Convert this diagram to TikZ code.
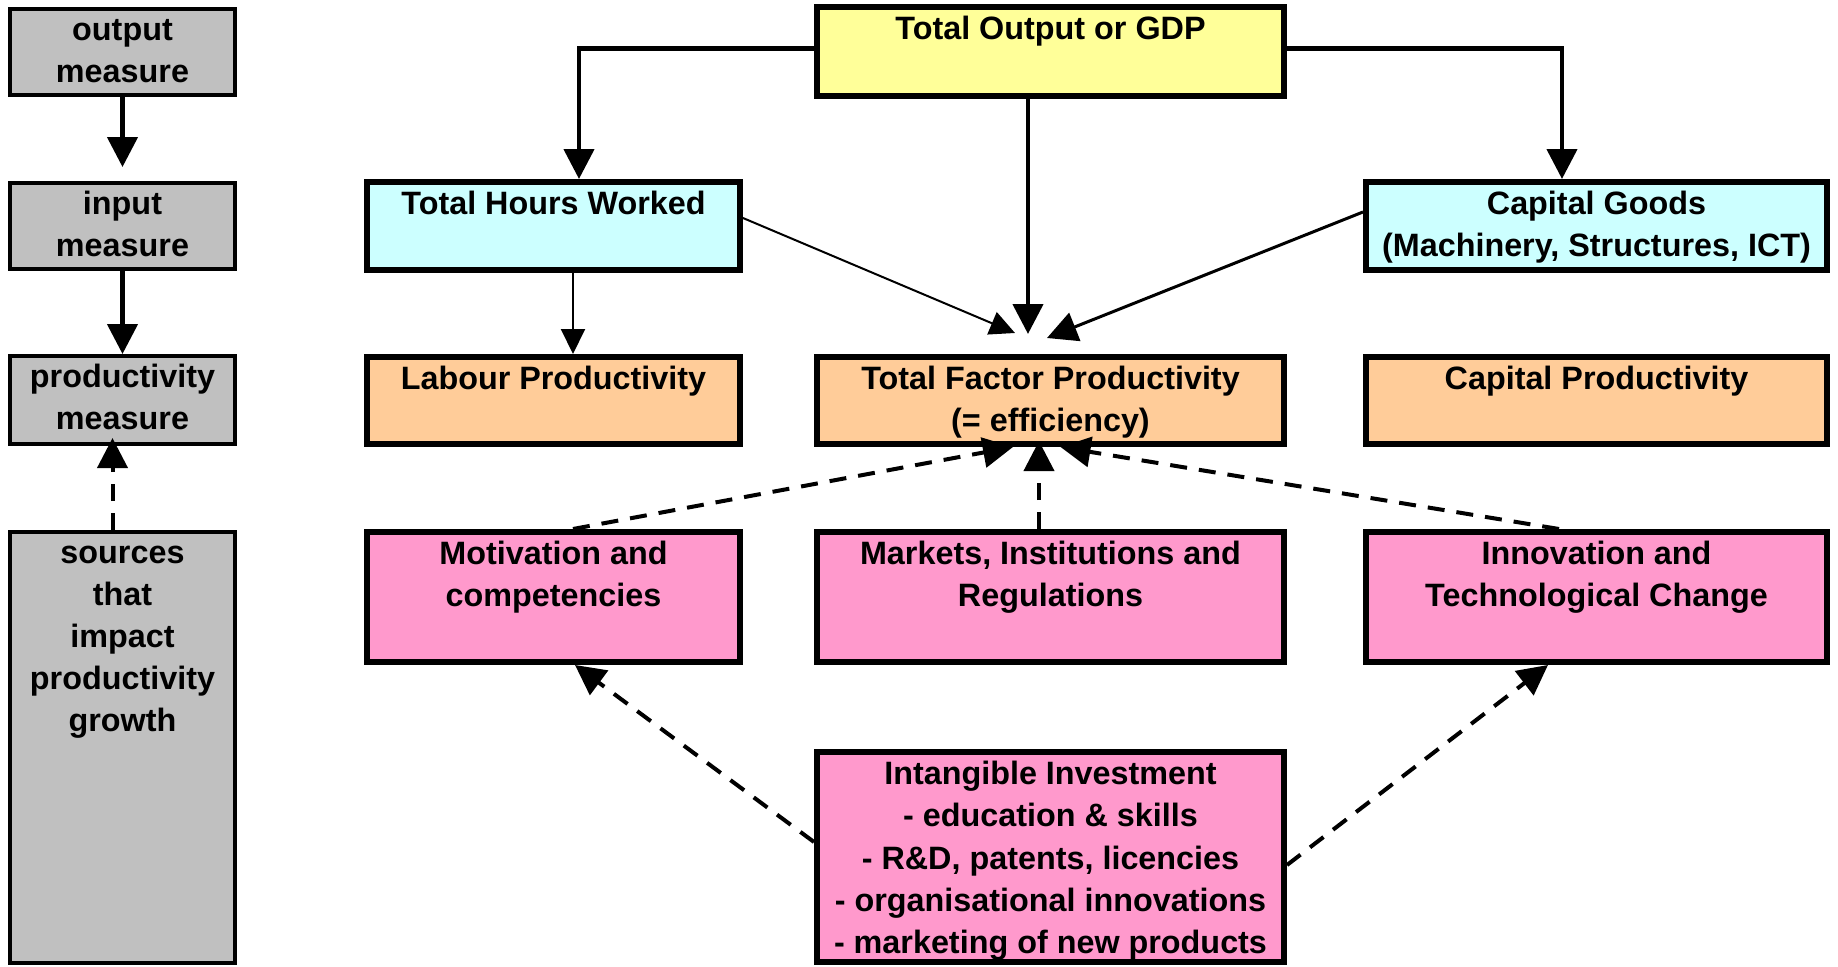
\documentclass[tikz,border=0pt]{standalone}
\usepackage{fontspec}
\setmainfont{Liberation Sans}
\usepackage{xcolor}
\usetikzlibrary{arrows.meta}
\definecolor{gdpyellow}{HTML}{FFFF99}
\definecolor{inputcyan}{HTML}{CCFFFF}
\definecolor{prodorange}{HTML}{FFCC99}
\definecolor{sourcepink}{HTML}{FF99CC}
\definecolor{measuregrey}{HTML}{C0C0C0}

\begin{document}
\begin{tikzpicture}[x=1mm, y=-1mm, font=\fontsize{9.2}{12}\selectfont\bfseries,
  box/.style={draw, line width=0.6mm, inner sep=0pt},
  measure/.style={box, line width=0.4mm, fill=measuregrey, minimum width=22.5mm},
  txt/.style={anchor=north, inner sep=0pt, align=center, yshift=-0.55mm},
  mtxt/.style={txt, yshift=0.25mm},
  flow/.style={line width=0.45mm, -{Triangle[length=3mm,width=3mm]}},
  thinflow/.style={line width=0.2mm, -{Triangle[length=2.5mm,width=2.4mm]}},
  dashflow/.style={line width=0.4mm, dash pattern=on 1.7mm off 1.2mm, -{Triangle[length=3mm,width=3mm]}}]
\useasboundingbox (0,0) rectangle (183.8,96.7);

\node[measure, minimum height=8.6mm, label={[mtxt]north:\strut output\\measure}] (outm) at (12.25,5.2) {};
\node[measure, minimum height=8.6mm, label={[mtxt]north:\strut input\\measure}] (inm) at (12.25,22.6) {};
\node[measure, minimum height=8.8mm, label={[mtxt]north:\strut productivity\\measure}] (prodm) at (12.25,40.0) {};
\node[measure, minimum height=43.1mm, label={[mtxt]north:\strut sources\\that\\impact\\productivity\\growth}] (srcm) at (12.25,74.75) {};

\node[box, fill=gdpyellow, minimum width=46.7mm, minimum height=8.9mm, label={[txt]north:\strut Total Output or GDP}] (gdp) at (105.05,5.15) {};
\node[box, fill=inputcyan, minimum width=37.3mm, minimum height=8.8mm, label={[txt]north:\strut Total Hours Worked}] (hours) at (55.35,22.6) {};
\node[box, fill=inputcyan, minimum width=46.1mm, minimum height=8.8mm, label={[txt]north:\strut Capital Goods\\(Machinery, Structures, ICT)}] (capital) at (159.65,22.6) {};
\node[box, fill=prodorange, minimum width=37.3mm, minimum height=8.7mm, label={[txt]north:\strut Labour Productivity}] (labprod) at (55.35,40.05) {};
\node[box, fill=prodorange, minimum width=46.7mm, minimum height=8.7mm, label={[txt]north:\strut Total Factor Productivity\\(= efficiency)}] (tfp) at (105.05,40.05) {};
\node[box, fill=prodorange, minimum width=46.1mm, minimum height=8.7mm, label={[txt]north:\strut Capital Productivity}] (capprod) at (159.65,40.05) {};
\node[box, fill=sourcepink, minimum width=37.3mm, minimum height=13mm, label={[txt]north:\strut Motivation and\\competencies}] (motiv) at (55.35,59.7) {};
\node[box, fill=sourcepink, minimum width=46.7mm, minimum height=13mm, label={[txt]north:\strut Markets, Institutions and\\Regulations}] (markets) at (105.05,59.7) {};
\node[box, fill=sourcepink, minimum width=46.1mm, minimum height=13mm, label={[txt]north:\strut Innovation and\\Technological Change}] (innov) at (159.65,59.7) {};
\node[box, fill=sourcepink, minimum width=46.7mm, minimum height=21mm, label={[txt]north:\strut Intangible Investment\\- education \& skills\\- R\&D, patents, licencies\\- organisational innovations\\- marketing of new products}] (intang) at (105.05,85.7) {};

\draw[flow] (outm.south) -- ([yshift=1.4mm]inm.north);
\draw[flow] (inm.south) -- (prodm.north);
\draw[dashflow] ([xshift=-1mm]srcm.north) -- ([xshift=-1mm,yshift=0.8mm]prodm.south);

\draw[flow] ([yshift=0.3mm]gdp.west) -| ([xshift=2.55mm]hours.north);
\draw[flow] ([yshift=0.3mm]gdp.east) -| ([xshift=-3.45mm]capital.north);
\draw[flow] ([xshift=-2.25mm]gdp.south) -- ([xshift=-2.25mm,yshift=2mm]tfp.north);
\draw[thinflow] ([yshift=0.8mm]hours.east) -- ([xshift=-3.55mm,yshift=2.1mm]tfp.north);
\draw[flow, line width=0.3mm] ([yshift=1.4mm]capital.west) -- ([xshift=-0.35mm,yshift=1.6mm]tfp.north);
\draw[thinflow] ([xshift=1.95mm]hours.south) -- ([xshift=1.95mm]labprod.north);

\draw[dashflow] ([xshift=1.95mm]motiv.north) -- ([xshift=-3.75mm]tfp.south);
\draw[dashflow] ([xshift=-1.15mm]markets.north) -- ([xshift=-1.15mm,yshift=0.6mm]tfp.south);
\draw[dashflow] ([xshift=-3.75mm]innov.north) -- ([xshift=1mm]tfp.south);
\draw[dashflow] ([yshift=1.5mm]intang.west) -- ([xshift=2.15mm]motiv.south);
\draw[dashflow] ([yshift=-0.8mm]intang.east) -- ([xshift=-4.85mm]innov.south);
\end{tikzpicture}
\end{document}
